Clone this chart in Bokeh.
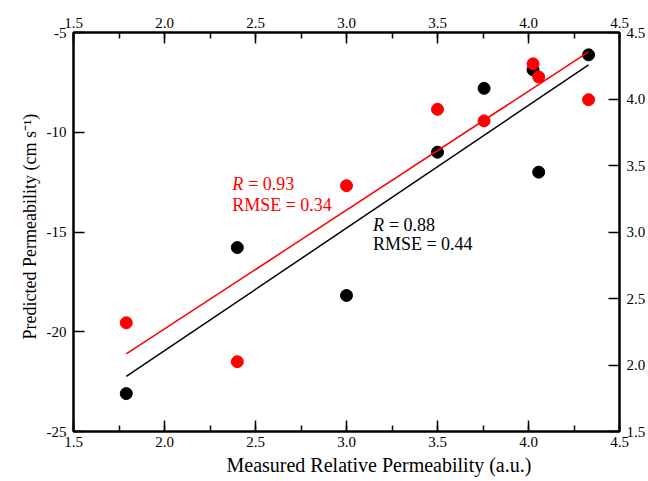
import numpy as np
from bokeh.plotting import figure
from bokeh.models import (LinearAxis, Range1d, SingleIntervalTicker, Label,
                          NumeralTickFormatter, Title)
from bokeh.embed import file_html
from bokeh.resources import INLINE

# Measured relative permeability (x) and predicted permeability (left axis units)
x_vals = [1.79, 2.40, 3.00, 3.50, 3.756, 4.025, 4.056, 4.33]
black_y = [-23.1, -15.78, -18.18, -11.0, -7.8, -6.87, -12.0, -6.12]
red_y = [-19.55, -21.5, -12.68, -8.85, -9.43, -6.57, -7.23, -8.37]

red_stats = ("0.93", "0.34")
black_stats = ("0.88", "0.44")

x_title = "Measured Relative Permeability (a.u.)"
y_title = "Predicted Permeability (cm s\u207B\u00B9)"

FONT = "Liberation Serif"

p = figure(width=648, height=478, output_backend="svg", toolbar_location=None,
           x_range=Range1d(1.5, 4.5), y_range=Range1d(-25, -5),
           min_border_left=73, min_border_right=28, min_border_top=32,
           min_border_bottom=46, background_fill_color="white",
           border_fill_color="white")
p.extra_y_ranges = {"right": Range1d(1.5, 4.5)}
p.grid.visible = False
p.outline_line_color = "black"
p.outline_line_width = 2

def style(ax, minor=True, standoff=6, fmt="0.0"):
    ax.formatter = NumeralTickFormatter(format=fmt)
    ax.axis_line_width = 2
    ax.axis_line_color = "black"
    ax.major_tick_in = 11
    ax.major_tick_out = 0
    ax.major_tick_line_width = 1.5
    ax.major_tick_line_color = "black"
    if minor:
        ax.minor_tick_in = 6
        ax.minor_tick_out = 0
        ax.minor_tick_line_width = 1.5
        ax.minor_tick_line_color = "black"
    else:
        ax.minor_tick_line_color = None
    ax.major_label_text_font = FONT
    ax.major_label_text_font_size = "15px"
    ax.major_label_text_color = "black"
    ax.major_label_standoff = standoff

# bottom
bx = p.xaxis[0]
bx.ticker = SingleIntervalTicker(interval=0.5, num_minor_ticks=2)
style(bx, minor=True, standoff=5)

# left
ly = p.yaxis[0]
ly.ticker = SingleIntervalTicker(interval=5, num_minor_ticks=0)
style(ly, minor=False, standoff=7, fmt="0")

# top
tx = LinearAxis(ticker=SingleIntervalTicker(interval=0.5, num_minor_ticks=2))
style(tx, minor=True, standoff=5)
p.add_layout(tx, "above")

# right
ry = LinearAxis(y_range_name="right",
                ticker=SingleIntervalTicker(interval=0.5, num_minor_ticks=0))
style(ry, minor=False, standoff=7)
p.add_layout(ry, "right")

# axis titles (slightly off-centre, as in the original)
p.add_layout(Title(text=x_title, align="left", offset=153, standoff=5,
                   text_font=FONT, text_font_size="20px",
                   text_font_style="normal", text_color="black"), "below")
p.add_layout(Title(text=y_title, align="left", offset=92, standoff=7,
                   text_font=FONT, text_font_size="18px",
                   text_font_style="normal", text_color="black"), "left")

# points
p.scatter(x_vals, black_y, size=12, color="black")
p.scatter(x_vals, red_y, size=12, color="#ff0000")

# least squares fits
xs = np.array(x_vals)
xl = np.array([xs.min(), xs.max()])
kb, bb = np.polyfit(xs, np.array(black_y), 1)
kr, br = np.polyfit(xs, np.array(red_y), 1)
p.line(xl, kb * xl + bb, color="black", line_width=1.5)
p.line(xl, kr * xl + br, color="#ff0000", line_width=1.5)

def stats(x, y1, y2, r, rmse, color, eq_off):
    p.add_layout(Label(x=x, y=y1, text="R", text_font=FONT, text_font_size="18px",
                       text_font_style="italic", text_color=color,
                       text_baseline="middle"))
    p.add_layout(Label(x=x, y=y1, x_offset=eq_off, text="= " + r, text_font=FONT,
                       text_font_size="18px", text_color=color,
                       text_baseline="middle"))
    p.add_layout(Label(x=x, y=y2, text="RMSE = " + rmse, text_font=FONT,
                       text_font_size="18px", text_color=color,
                       text_baseline="middle"))

stats(2.372, -12.6, -13.65, red_stats[0], red_stats[1], "#ff0000", 16)
stats(3.145, -14.65, -15.6, black_stats[0], black_stats[1], "black", 16)

open("out.html", "w").write(file_html(p, INLINE))
